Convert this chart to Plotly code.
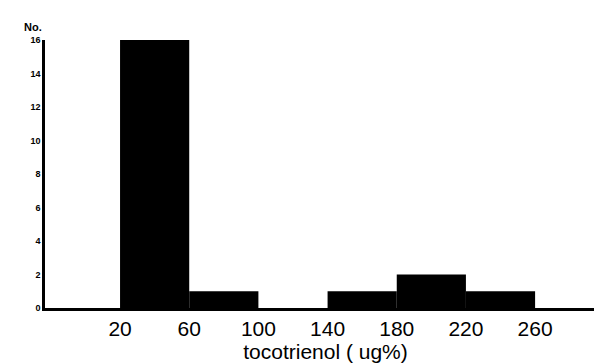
import plotly.graph_objects as go

bin_left = [20, 60, 100, 140, 180, 220]
bin_width = 40
counts = [16, 1, 0, 1, 2, 1]
x_tick_vals = [20, 60, 100, 140, 180, 220, 260]
x_tick_text = ["20", "60", "100", "140", "180", "220", "260"]
y_tick_vals = [0, 2, 4, 6, 8, 10, 12, 14, 16]

centers = [b + bin_width / 2 for b in bin_left]

fig = go.Figure(go.Bar(
    x=centers, y=counts, width=[bin_width] * len(counts),
    marker=dict(color="black", line=dict(width=0)),
))

fig.update_layout(
    width=602, height=363,
    margin=dict(l=37, r=4, t=32, b=63),
    plot_bgcolor="white", paper_bgcolor="white",
    showlegend=False,
    font=dict(family="Liberation Sans, Arial, sans-serif", color="black"),
    xaxis=dict(
        range=[-23.4, 301], showgrid=False, zeroline=False, automargin=False,
        showline=True, linecolor="black", linewidth=2.5,
        tickmode="array", tickvals=x_tick_vals, ticktext=x_tick_text,
        ticks="", tickfont=dict(size=21),
        title=dict(text="tocotrienol ( ug%)", font=dict(size=21), standoff=0),
    ),
    yaxis=dict(
        range=[0, 16], showgrid=False, zeroline=False, automargin=False,
        showline=True, linecolor="black", linewidth=2.5,
        tickmode="array", tickvals=y_tick_vals,
        ticks="", tickfont=dict(size=9, weight="bold"),
    ),
    annotations=[dict(
        text="No.", xref="paper", yref="paper", x=-0.021, y=1.0,
        xanchor="center", yanchor="bottom", yshift=5, showarrow=False,
        font=dict(size=11, weight="bold"),
    )],
)

fig.write_html("out.html")
